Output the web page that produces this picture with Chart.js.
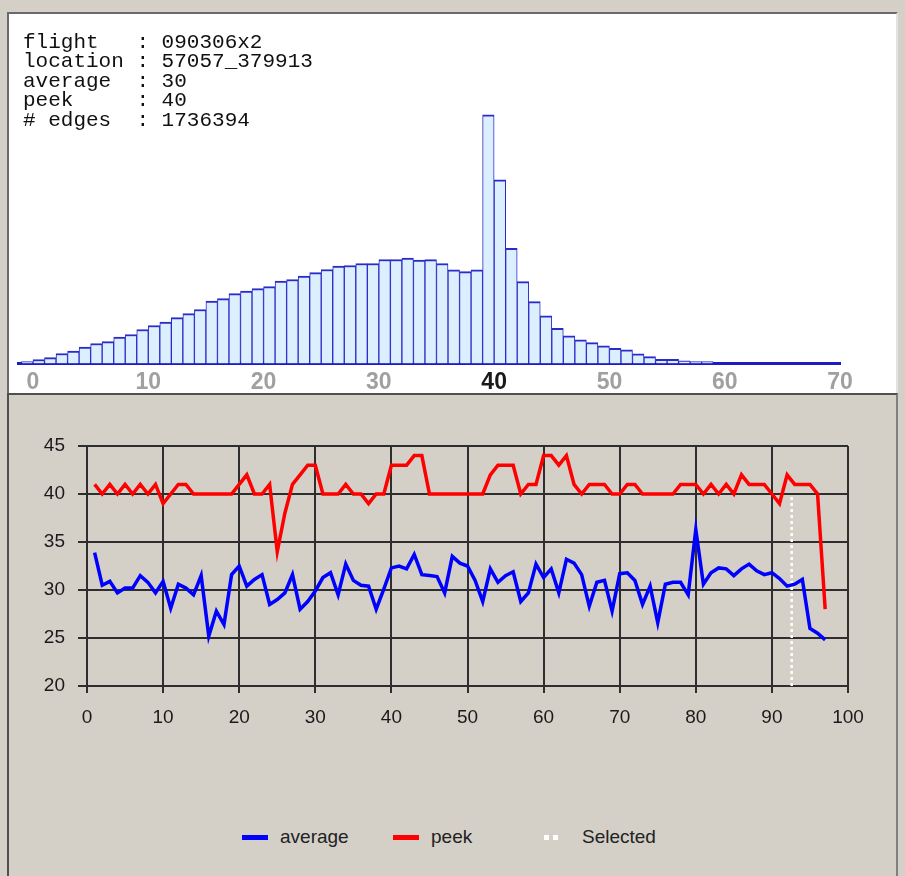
<!DOCTYPE html>
<html>
<head>
<meta charset="utf-8">
<script src="https://cdn.jsdelivr.net/npm/chart.js@4.4.1/dist/chart.umd.min.js"></script>
<style>
  body { margin:0; width:905px; height:876px; background:#d4d0c8; position:relative; overflow:hidden; font-family:"Liberation Sans", Arial, sans-serif; }
  #histPanel { position:absolute; left:7px; top:12px; width:887px; height:380px; background:#fff; border-top:2px solid #6a6a6a; border-left:2px solid #6a6a6a; border-right:2px solid #e2e2e2; }
  #linePanel { position:absolute; left:7px; top:393px; width:887px; height:490px; border-top:2px solid #505050; border-left:2px solid #505050; border-right:2px solid #808080; }
  #info { position:absolute; left:23px; top:32.5px; margin:0; font:21px/19.5px "Liberation Mono", monospace; color:#111; }
  #hist { position:absolute; left:0; top:0; }
  #line { position:absolute; left:0; top:396px; }
  #legend { position:absolute; left:242px; top:825px; display:flex; font-size:19px; color:#222; }
  .item { width:151px; height:24px; display:flex; align-items:center; }
  .sw { width:26px; height:5px; margin-right:12px; }
</style>
</head>
<body>
<div id="histPanel"></div>
<div id="linePanel"></div>
<canvas id="hist" width="905" height="396"></canvas>
<pre id="info">flight   : 090306x2
location : 57057_379913
average  : 30
peek     : 40
# edges  : 1736394</pre>
<canvas id="line" width="905" height="390"></canvas>
<div id="legend"></div>

<script>
// histogram: edges per bin (thousands), bin k covers (k-1, k]
const histCounts = [
  0.9, 2.0, 2.9, 5.0, 6.2, 8.2, 10.0, 10.9, 13.2, 14.5,
  17.0, 19.0, 20.7, 22.9, 24.9, 27.0, 31.2, 32.4, 34.9, 36.2,
  37.4, 38.4, 41.2, 42.0, 43.7, 45.4, 47.0, 48.7, 49.0, 50.0,
  50.0, 52.0, 52.0, 52.7, 51.7, 51.9, 50.0, 46.8, 45.9, 46.8,
  124.3, 91.8, 57.6, 40.9, 30.9, 23.8, 17.6, 13.8, 11.8, 10.4,
  8.8, 7.6, 6.8, 4.8, 3.4, 2.1, 2.1, 1.3, 0.9, 0.9,
  0, 0, 0, 0, 0, 0, 0, 0, 0, 0, 0
];
const histTicks = [0, 10, 20, 30, 40, 50, 60, 70];
const peekBin = 40;

// per-location series, x = 1..97
const average = [
  33.9, 30.5, 30.9, 29.7, 30.2, 30.2, 31.5, 30.8, 29.7, 30.9,
  28.1, 30.6, 30.2, 29.5, 31.5, 25.2, 27.8, 26.4, 31.6, 32.5,
  30.4, 31.1, 31.6, 28.5, 29.0, 29.7, 31.6, 28.0, 28.8, 29.9,
  31.3, 31.8, 29.5, 32.7, 31.0, 30.5, 30.4, 28.0, 30.1, 32.3,
  32.5, 32.2, 33.7, 31.6, 31.5, 31.4, 29.7, 33.5, 32.8, 32.5,
  31.0, 28.8, 32.2, 30.8, 31.5, 31.9, 28.8, 29.7, 32.7, 31.3,
  32.2, 29.7, 33.2, 32.8, 31.6, 28.3, 30.8, 31.0, 27.8, 31.7,
  31.8, 31.0, 28.5, 30.4, 26.6, 30.6, 30.8, 30.8, 29.5, 36.3,
  30.6, 31.8, 32.3, 32.2, 31.5, 32.2, 32.7, 32.0, 31.6, 31.8,
  31.2, 30.4, 30.6, 31.1, 26.0, 25.5, 24.8
];
const peek = [
  41, 40, 41, 40, 41, 40, 41, 40, 41, 39,
  40, 41, 41, 40, 40, 40, 40, 40, 40, 41,
  42, 40, 40, 41, 34, 38, 41, 42, 43, 43,
  40, 40, 40, 41, 40, 40, 39, 40, 40, 43,
  43, 43, 44, 44, 40, 40, 40, 40, 40, 40,
  40, 40, 42, 43, 43, 43, 40, 41, 41, 44,
  44, 43, 44, 41, 40, 41, 41, 41, 40, 40,
  41, 41, 40, 40, 40, 40, 40, 41, 41, 41,
  40, 41, 40, 41, 40, 42, 41, 41, 41, 40,
  39, 42, 41, 41, 41, 40, 28
];
const selectedX = 92.6;
const selectedRange = [20, 39.7];

const FONT = "Liberation Sans";

new Chart(document.getElementById("hist"), {
  type: "bar",
  data: {
    datasets: [{
      data: histCounts.map((c, b) => ({ x: b - 0.5, y: c })),
      backgroundColor: "#dcefff",
      borderColor: "#2b2bc8",
      borderWidth: { top: 2, left: 1, right: 1, bottom: 0 },
      barPercentage: 1,
      categoryPercentage: 1
    }]
  },
  options: {
    responsive: false,
    animation: false,
    layout: { padding: { left: 18, right: 65, top: 15.5, bottom: 0 } },
    plugins: { legend: { display: false }, tooltip: { enabled: false } },
    scales: {
      x: {
        type: "linear", min: -1.3, max: 70, offset: false,
        grid: { display: false },
        border: { display: true, color: "#1c1cc0", width: 3 },
        afterBuildTicks: s => { s.ticks = histTicks.map(v => ({ value: v })); },
        afterFit: s => { s.height = 32.5; },
        ticks: {
          padding: -3,
          font: { size: 23, weight: "bold", family: FONT },
          color: c => (c.tick && c.tick.value === peekBin) ? "#1a1a1a" : "#a0a0a0"
        }
      },
      y: { display: false, min: 0, max: 174 }
    }
  }
});

const lineChart = new Chart(document.getElementById("line"), {
  type: "line",
  data: {
    datasets: [
      { label: "average", data: average.map((v, i) => ({ x: i + 1, y: v })), borderColor: "#0000ff", backgroundColor: "#0000ff", borderWidth: 3.5, pointRadius: 0, tension: 0 },
      { label: "peek", data: peek.map((v, i) => ({ x: i + 1, y: v })), borderColor: "#ff0000", backgroundColor: "#ff0000", borderWidth: 3.5, pointRadius: 0, tension: 0 },
      { label: "Selected", data: selectedRange.map(y => ({ x: selectedX, y })), borderColor: "#ffffff", backgroundColor: "#ffffff", borderWidth: 2.5, borderDash: [3, 3], pointRadius: 0 }
    ]
  },
  options: {
    responsive: false,
    animation: false,
    layout: { padding: { left: 0, right: 57, top: 50, bottom: 0 } },
    plugins: { legend: { display: false }, tooltip: { enabled: false } },
    scales: {
      x: {
        type: "linear", min: 0, max: 100,
        ticks: { stepSize: 10, padding: 13, color: "#1a1a1a", font: { size: 19, family: FONT } },
        grid: { color: "#2e2e2e", lineWidth: 2, tickLength: 7 },
        border: { color: "#2e2e2e", width: 2 },
        afterFit: s => { s.height = 100; }
      },
      y: {
        min: 20, max: 45,
        ticks: { stepSize: 5, padding: 13, color: "#1a1a1a", font: { size: 19, family: FONT } },
        grid: { color: "#2e2e2e", lineWidth: 2, tickLength: 9 },
        border: { color: "#2e2e2e", width: 2 },
        afterFit: s => { s.width = 87; }
      }
    }
  }
});

// legend in fixed columns like the original
const legend = document.getElementById("legend");
lineChart.data.datasets.forEach(ds => {
  const item = document.createElement("div");
  item.className = "item";
  const sw = document.createElement("span");
  sw.className = "sw";
  if (ds.borderDash) {
    sw.style.background = "linear-gradient(90deg," + ds.borderColor + " 0 5px,transparent 5px 9px," + ds.borderColor + " 9px 14px,transparent 14px)";
  } else {
    sw.style.background = ds.borderColor;
  }
  item.appendChild(sw);
  item.appendChild(document.createTextNode(ds.label));
  legend.appendChild(item);
});
</script>
</body>
</html>
